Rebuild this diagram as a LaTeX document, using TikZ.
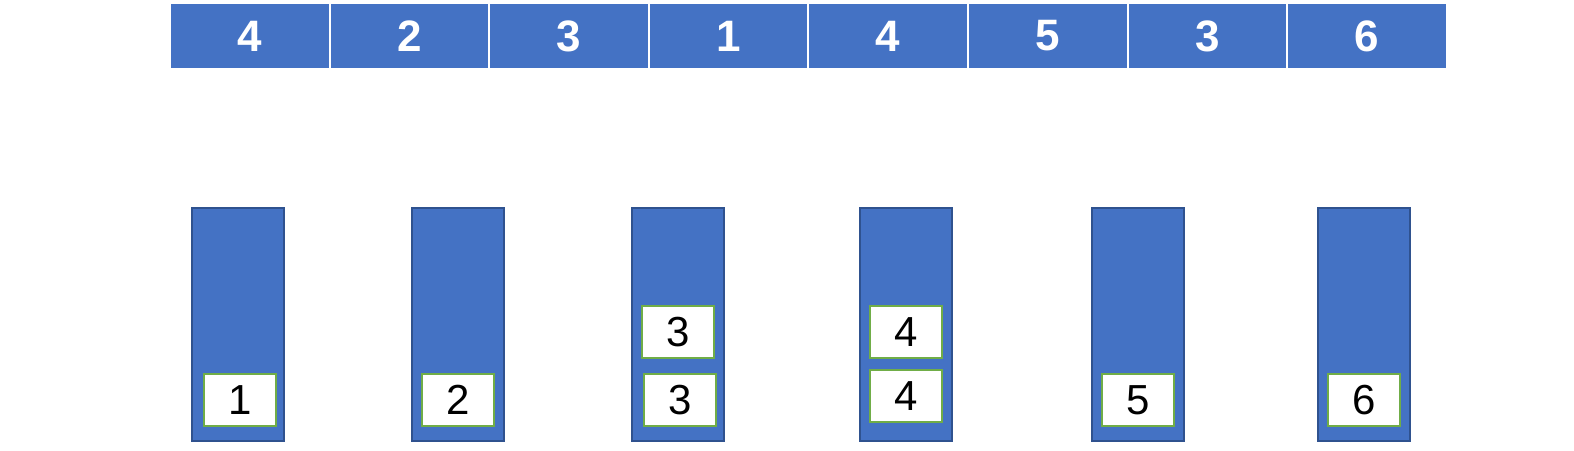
\documentclass[tikz,border=0pt]{standalone}
\usepackage{fontspec}
\setmainfont{Liberation Sans}
\usepackage{xcolor}
\usepackage{tikz}
\usetikzlibrary{positioning}
\definecolor{bkblue}{HTML}{4472C4}
\definecolor{bkedge}{HTML}{2F528F}
\definecolor{bkgreen}{HTML}{70AD47}
\tikzset{
  keycell/.style={rectangle,draw=white,line width=2pt,fill=bkblue,minimum width=159.6pt,minimum height=66pt,inner sep=0pt,text=white,font=\fontsize{44}{44}\selectfont\bfseries},
  bucket/.style={rectangle,draw=bkedge,line width=1.5pt,fill=bkblue,minimum width=92pt,minimum height=233pt,inner sep=0pt},
  item/.style={rectangle,draw=bkgreen,line width=1.5pt,fill=white,minimum width=72pt,minimum height=52pt,inner sep=0pt,font=\fontsize{42}{42}\selectfont},
}

\begin{document}
\begin{tikzpicture}[x=1pt,y=-1pt]
    \useasboundingbox (0,0) rectangle (1574,450);
    % input sequence
    \foreach \v [count=\i] in {4,2,3,1,4,5,3,6}
      \node[keycell] (c\i) at ({170+159.6*(\i-0.5)},36) {\v};
    % buckets
    \foreach \xb [count=\i] in {238,458,678,906,1138,1364}
      \node[bucket] (b\i) at (\xb,324.5) {};
    % bucket contents
    \node[item] (i1) at (240,400) {1};
    \node[item] (i2) at (458,400) {2};
    \node[item] (i3a) at (678,332) {3};
    \node[item] (i3b) at (680,400) {3};
    \node[item] (i4a) at (906,332) {4};
    \node[item] (i4b) at (906,396) {4};
    \node[item] (i5) at (1138,400) {5};
    \node[item] (i6) at (1364,400) {6};
  \end{tikzpicture}
\end{document}
